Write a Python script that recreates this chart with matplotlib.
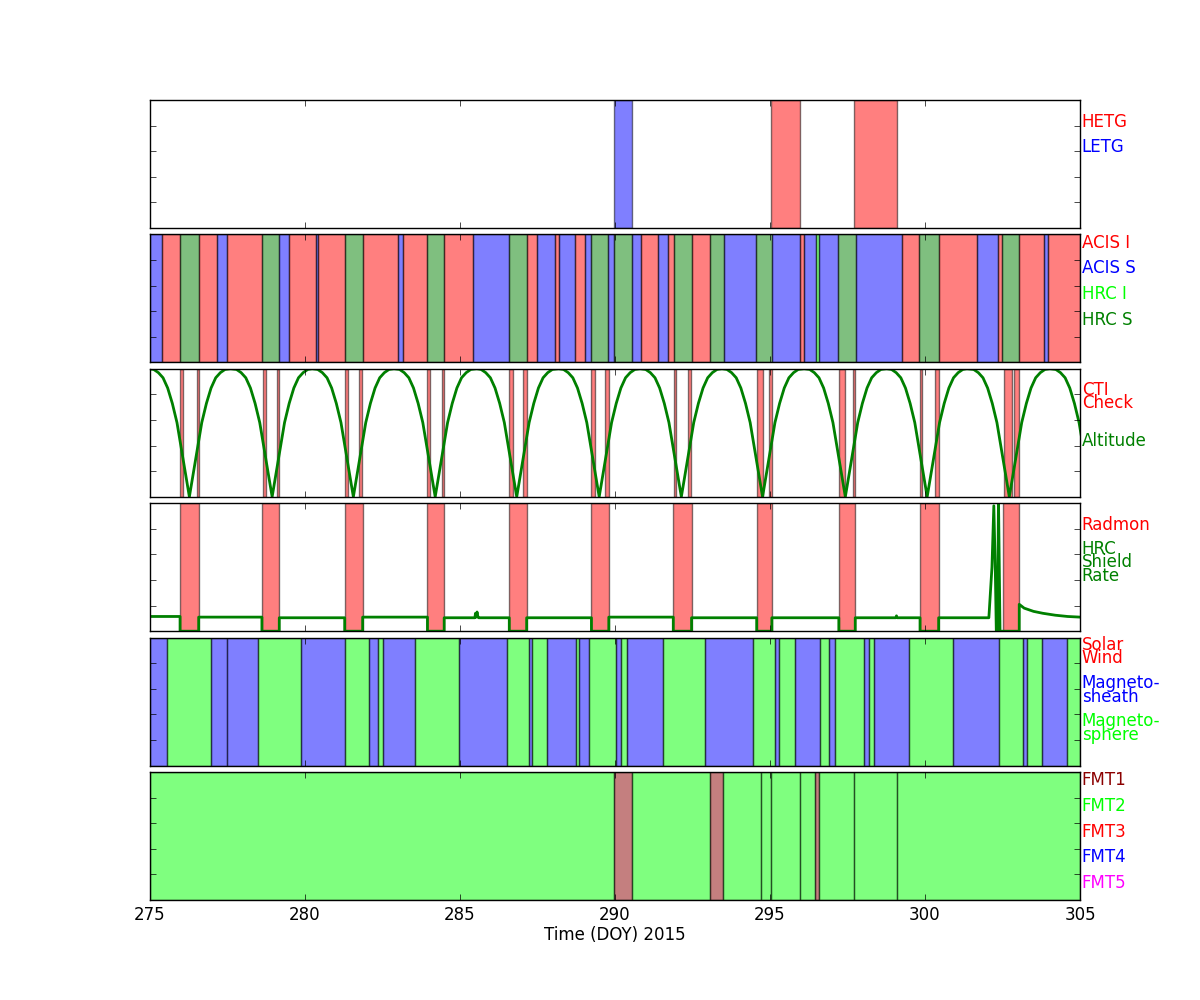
import numpy as np
import matplotlib
matplotlib.use("Agg")
import matplotlib.pyplot as plt

plt.style.use('classic')
plt.rcParams['figure.facecolor'] = 'white'
plt.rcParams['savefig.facecolor'] = 'white'

# --- gratings ---
hetg = [(295.03, 295.97), (297.71, 299.10)]
letg = [(289.97, 290.55)]

# --- instruments (boundaries + instrument in each interval) ---
inst_edges = [275.00, 275.40, 275.97, 276.57, 277.17, 277.49, 278.61, 279.17, 279.49,
              280.35, 280.42, 281.30, 281.86, 283.01, 283.17, 283.95, 284.49, 285.43,
              286.59, 287.15, 287.49, 288.05, 288.18, 288.72, 289.02, 289.22, 289.77,
              289.97, 290.56, 290.83, 291.38, 291.70, 291.89, 292.47, 293.05, 293.51,
              294.55, 295.05, 295.98, 296.10, 296.47, 296.58, 297.20, 297.76, 299.25,
              299.82, 300.44, 301.69, 302.37, 302.49, 303.04, 303.85, 303.96, 305.00]
inst_names = ['AS', 'AI', 'HS', 'AI', 'AS', 'AI', 'HS', 'AS', 'AI', 'AS',
              'AI', 'HS', 'AI', 'AS', 'AI', 'HS', 'AI', 'AS', 'HS', 'AI',
              'AS', 'AI', 'AS', 'AI', 'AS', 'HS', 'AS', 'HS', 'AS', 'AI',
              'AS', 'AI', 'HS', 'AI', 'HS', 'AS', 'HS', 'AS', 'AI', 'AS',
              'HI', 'AS', 'HS', 'AS', 'AI', 'HS', 'AI', 'AS', 'AI', 'HS',
              'AI', 'AS', 'AI']
inst_color = {'AI': 'red', 'AS': 'blue', 'HI': 'lime', 'HS': 'green'}

# --- CTI checks ---
cti = [(275.97, 276.07), (276.51, 276.57), (278.63, 278.74), (279.11, 279.17),
       (281.30, 281.39), (281.74, 281.85), (283.94, 284.03), (284.42, 284.49),
       (286.59, 286.70), (287.04, 287.15), (289.24, 289.34), (289.69, 289.80),
       (291.90, 291.97), (292.35, 292.46), (294.57, 294.78), (294.98, 295.08),
       (297.21, 297.42), (297.67, 297.75), (299.84, 299.90), (300.31, 300.44),
       (302.55, 302.81), (302.87, 303.02)]

# --- altitude: perigee / apogee times, and the arch shape ---
perigee = [276.27, 278.94, 281.56, 284.20, 286.83, 289.49, 292.14, 294.76,
           297.43, 300.07, 302.72, 305.37]
apogee = [274.95, 277.60, 280.23, 282.87, 285.54, 288.18, 290.81, 293.45,
          296.10, 298.76, 301.35, 304.03]
arch_off = [0.13, 0.27, 0.40, 0.55, 0.70, 0.85, 1.00, 1.15]   # days from perigee
arch_val = [0.19, 0.39, 0.58, 0.73, 0.85, 0.93, 0.97, 0.995]  # fraction of max altitude

# --- radmon off and HRC shield rate ---
radmon = [(275.97, 276.57), (278.61, 279.17), (281.28, 281.86), (283.95, 284.49),
          (286.59, 287.15), (289.24, 289.80), (291.88, 292.47), (294.57, 295.06),
          (297.22, 297.75), (299.84, 300.44), (302.53, 303.04)]
shield_day = [275.00, 275.97, 275.97, 276.57, 276.57, 278.61, 278.61, 279.17, 279.17,
              281.28, 281.28, 281.86, 281.86, 283.95, 283.95, 284.49, 284.49, 285.48,
              285.50, 285.52, 285.55, 285.58, 285.60, 286.59, 286.59, 287.15, 287.15,
              289.24, 289.24, 289.80, 289.80, 291.88, 291.88, 292.47, 292.47, 294.57,
              294.57, 295.06, 295.06, 297.22, 297.22, 297.75, 297.75, 299.06, 299.08,
              299.10, 299.84, 299.84, 300.44, 300.44, 302.06, 302.16, 302.22, 302.27,
              302.30, 302.34, 302.37, 302.42, 303.04, 303.04, 303.20, 303.50, 303.80,
              304.20, 304.60, 305.00]
shield_val = [0.115, 0.115, 0.0, 0.0, 0.11, 0.11, 0.0, 0.0, 0.105,
              0.105, 0.0, 0.0, 0.11, 0.11, 0.0, 0.0, 0.105, 0.105,
              0.14, 0.11, 0.15, 0.11, 0.105, 0.105, 0.0, 0.0, 0.105,
              0.105, 0.0, 0.0, 0.11, 0.11, 0.0, 0.0, 0.105, 0.105,
              0.0, 0.0, 0.105, 0.105, 0.0, 0.0, 0.105, 0.105, 0.12,
              0.105, 0.105, 0.0, 0.0, 0.105, 0.105, 0.5, 0.98, 0.45,
              0.0, 0.0, 1.05, 0.0, 0.0, 0.21, 0.18, 0.155, 0.14,
              0.125, 0.115, 0.11]

# --- solar wind / magnetosheath / magnetosphere ---
reg_edges = [275.00, 275.56, 276.98, 277.49, 278.49, 279.86, 281.28, 282.05, 282.35,
             282.51, 283.54, 284.96, 286.51, 287.21, 287.32, 287.82, 288.74, 288.83,
             289.17, 290.03, 290.20, 290.39, 291.54, 292.91, 294.44, 295.15, 295.28,
             295.80, 296.61, 296.91, 297.09, 298.03, 298.20, 298.35, 299.49, 300.91,
             302.38, 303.15, 303.28, 303.77, 304.57, 305.00]
reg_names = ['sh', 'sp', 'sh', 'sh', 'sp', 'sh', 'sp', 'sh', 'sp', 'sh',
             'sp', 'sh', 'sp', 'sh', 'sp', 'sh', 'sp', 'sh', 'sp', 'sh',
             'sp', 'sh', 'sp', 'sh', 'sp', 'sh', 'sp', 'sh', 'sp', 'sh',
             'sp', 'sh', 'sp', 'sh', 'sp', 'sh', 'sp', 'sh', 'sp', 'sh',
             'sp']
reg_color = {'sw': 'red', 'sh': 'blue', 'sp': 'lime'}

# --- telemetry format ---
fmt_edges = [275.00, 289.98, 290.56, 293.06, 293.49, 294.70, 295.03, 295.98, 296.46,
             296.59, 297.72, 299.11, 305.00]
fmt_names = ['FMT2', 'FMT1', 'FMT2', 'FMT1', 'FMT2', 'FMT2', 'FMT2', 'FMT2', 'FMT1',
             'FMT2', 'FMT2', 'FMT2']
fmt_color = {'FMT1': 'darkred', 'FMT2': 'lime', 'FMT3': 'red', 'FMT4': 'blue', 'FMT5': 'magenta'}

# build the altitude track from perigees / apogees
pts = [(a, 1.0) for a in apogee]
for p in perigee:
    pts.append((p, 0.0))
    for o, v in zip(arch_off, arch_val):
        pts.append((p - o, v))
        pts.append((p + o, v))
pts.sort()
alt_day = [q[0] for q in pts]
alt_val = [q[1] for q in pts]


fig, axs = plt.subplots(6, 1, sharex=True, figsize=(12, 10), dpi=100)
plt.subplots_adjust(left=0.125, right=0.9, top=0.9, bottom=0.1, hspace=0.05)


def lab(ax, y, txt, col):
    ax.text(1.002, y, txt, color=col, transform=ax.transAxes, ha='left', va='center',
            fontsize=12, linespacing=0.68)


ax = axs[0]
for s, e in hetg:
    ax.axvspan(s, e, facecolor='red', alpha=0.5)
for s, e in letg:
    ax.axvspan(s, e, facecolor='blue', alpha=0.5)
lab(ax, 0.825, 'HETG', 'red')
lab(ax, 0.635, 'LETG', 'blue')

ax = axs[1]
for i in range(len(inst_names)):
    ax.axvspan(inst_edges[i], inst_edges[i + 1], facecolor=inst_color[inst_names[i]], alpha=0.5)
lab(ax, 0.935, 'ACIS I', 'red')
lab(ax, 0.735, 'ACIS S', 'blue')
lab(ax, 0.535, 'HRC I', 'lime')
lab(ax, 0.335, 'HRC S', 'green')

ax = axs[2]
for s, e in cti:
    ax.axvspan(s, e, facecolor='red', alpha=0.5)
ax.plot(alt_day, alt_val, color='green', lw=2)
lab(ax, 0.785, 'CTI\nCheck', 'red')
lab(ax, 0.435, 'Altitude', 'green')

ax = axs[3]
for s, e in radmon:
    ax.axvspan(s, e, facecolor='red', alpha=0.5)
ax.plot(shield_day, shield_val, color='green', lw=2)
lab(ax, 0.83, 'Radmon', 'red')
lab(ax, 0.54, 'HRC\nShield\nRate', 'green')

ax = axs[4]
for i in range(len(reg_names)):
    ax.axvspan(reg_edges[i], reg_edges[i + 1], facecolor=reg_color[reg_names[i]], alpha=0.5)
lab(ax, 0.89, 'Solar\nWind', 'red')
lab(ax, 0.59, 'Magneto-\nsheath', 'blue')
lab(ax, 0.295, 'Magneto-\nsphere', 'lime')

ax = axs[5]
for i in range(len(fmt_names)):
    ax.axvspan(fmt_edges[i], fmt_edges[i + 1], facecolor=fmt_color[fmt_names[i]], alpha=0.5)
fmt_y = [0.935, 0.735, 0.535, 0.335, 0.135]
for k, name in enumerate(['FMT1', 'FMT2', 'FMT3', 'FMT4', 'FMT5']):
    lab(ax, fmt_y[k], name, fmt_color[name])

for ax in axs:
    ax.set_xlim(275, 305)
    ax.set_ylim(0, 1)
    ax.set_yticks([0, 0.2, 0.4, 0.6, 0.8, 1.0])
    ax.set_yticklabels([])
axs[5].set_xticks([275, 280, 285, 290, 295, 300, 305])
axs[5].set_xlabel('Time (DOY) 2015', labelpad=1.5)

plt.savefig('out.png', dpi=100)
